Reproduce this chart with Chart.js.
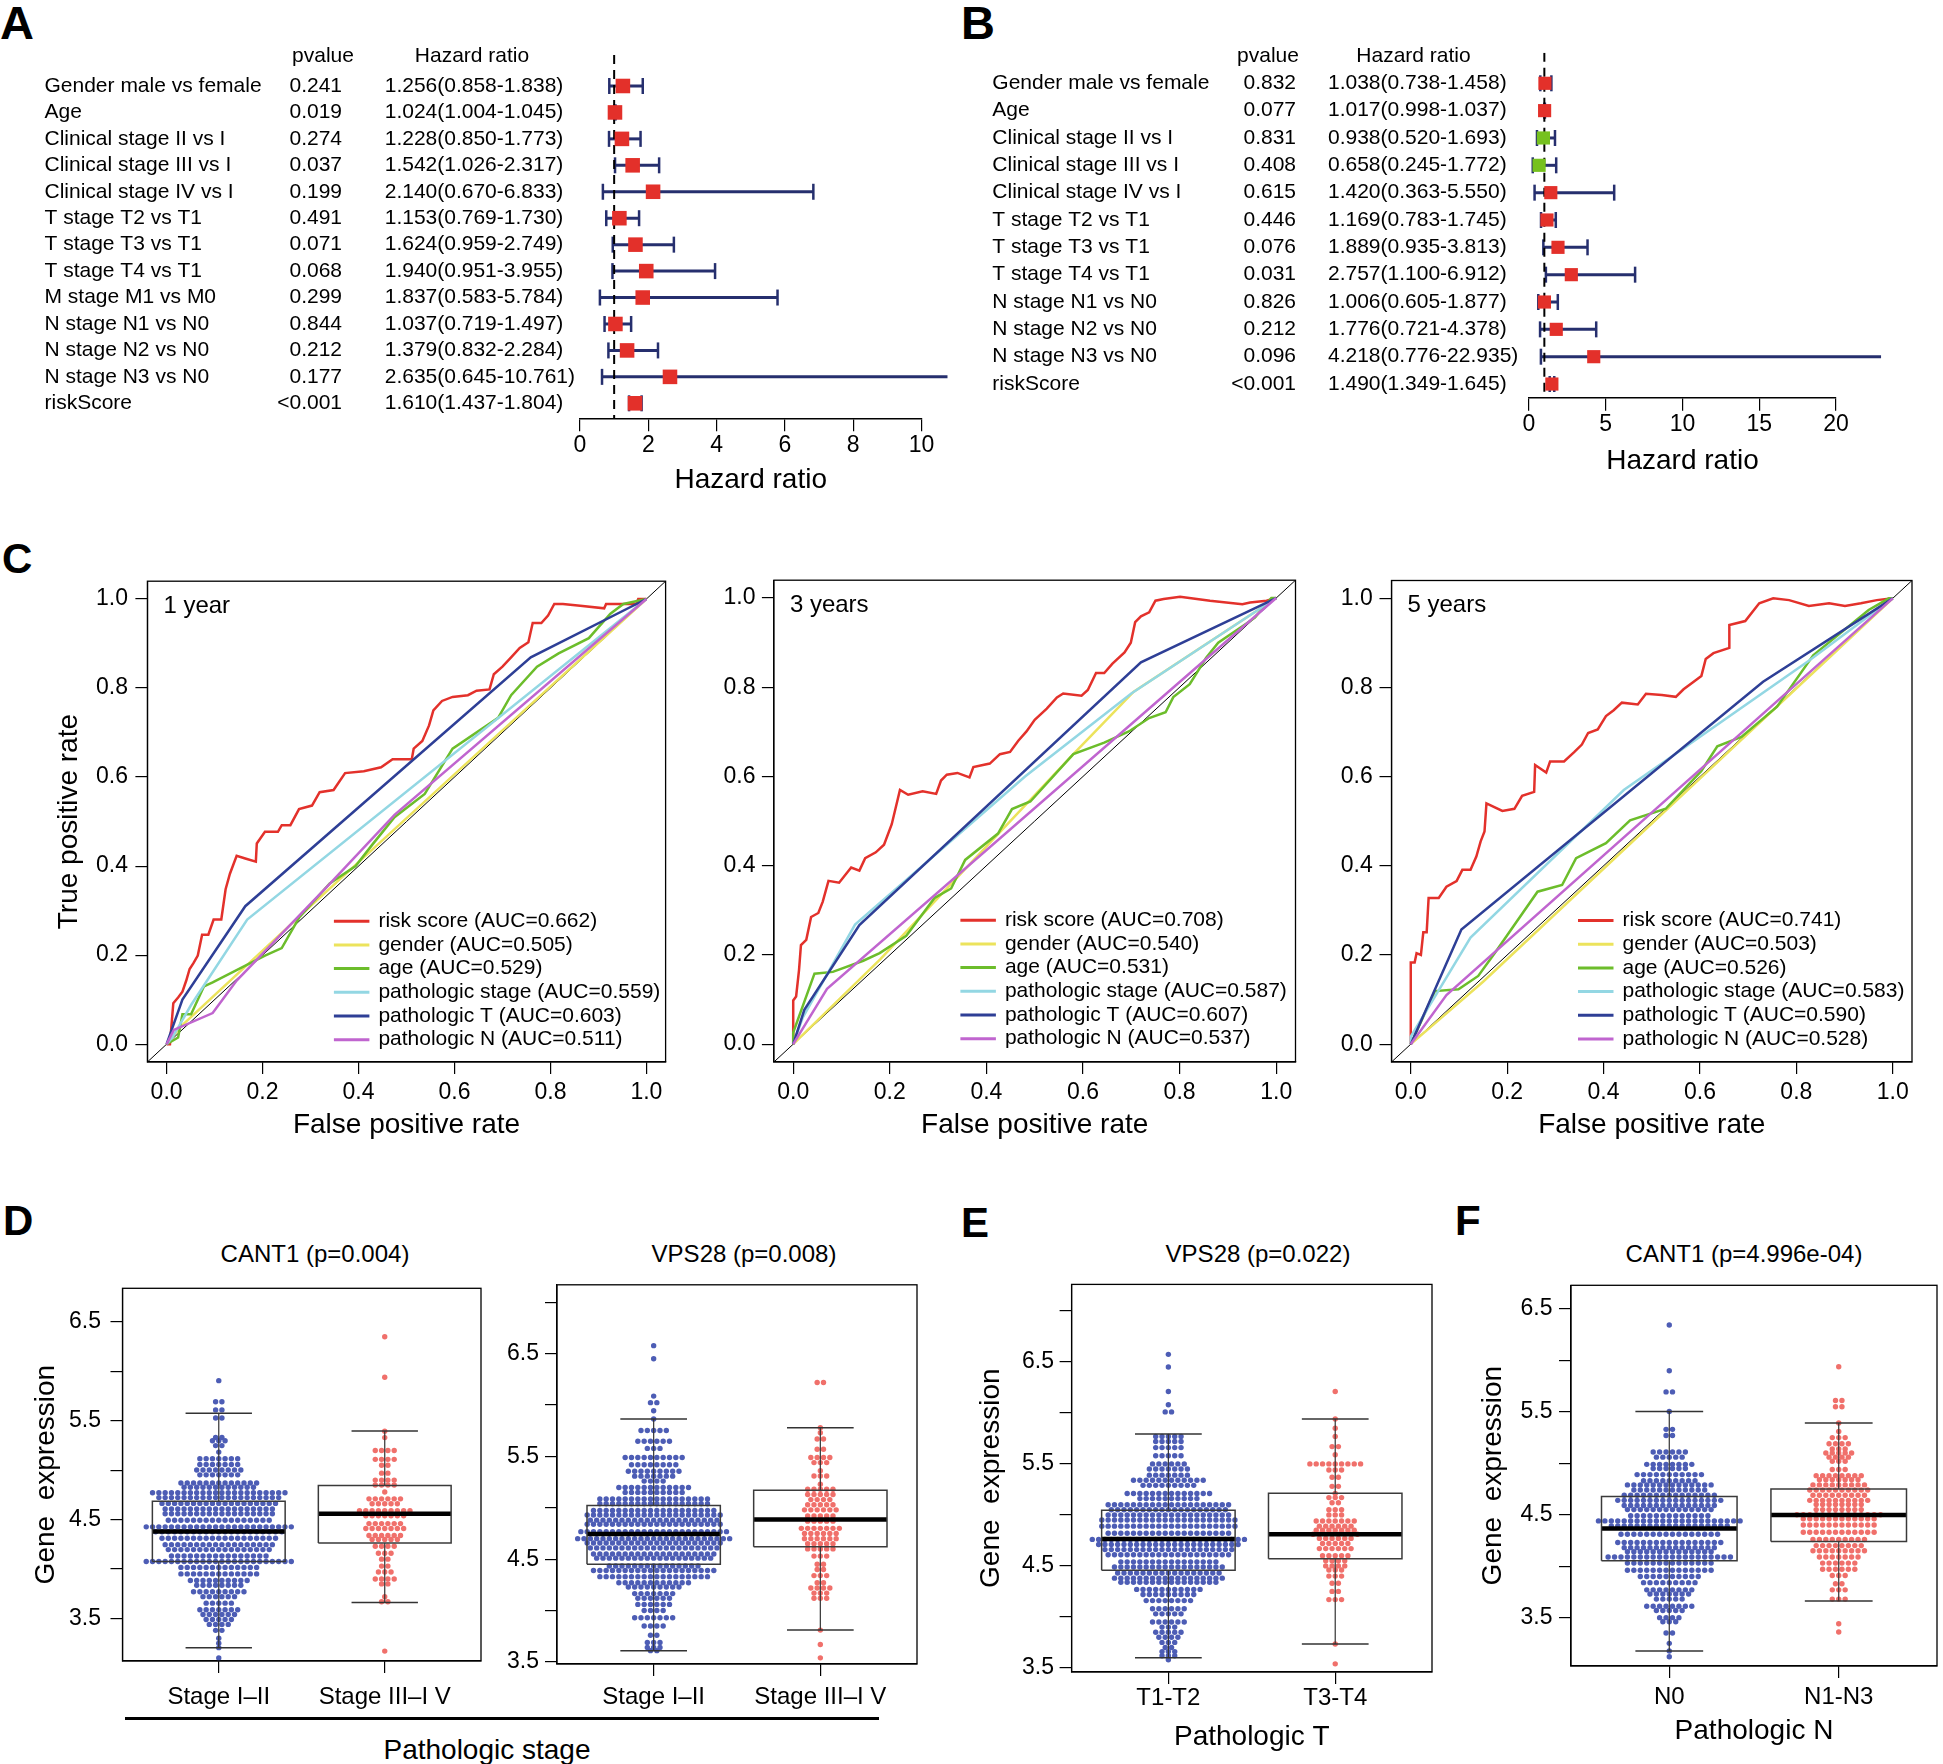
<!DOCTYPE html>
<html>
<head>
<meta charset="utf-8">
<title>Figura</title>
<script src="https://cdn.jsdelivr.net/npm/chart.js@4.4.1/dist/chart.umd.min.js"></script>
<style>
  body { margin: 0; background: #fff; font-family: 'Liberation Sans', Arial, Helvetica, sans-serif; color: #000; }
  #pagina { position: relative; width: 1943px; height: 1764px; overflow: hidden; }
  canvas { position: absolute; }
  .letra { position: absolute; font-weight: bold; line-height: 1; }
  .titulo { position: absolute; font-size: 24px; line-height: 1; white-space: pre; transform: translate(-50%, -50%); }
</style>
</head>
<body>
<div id="pagina">
  <div class="letra" style="left:0px;top:-1px;font-size:47px">A</div>
  <div class="letra" style="left:961px;top:-1px;font-size:47px">B</div>
  <div class="letra" style="left:2px;top:538px;font-size:42px">C</div>
  <div class="letra" style="left:3px;top:1200px;font-size:42px">D</div>
  <div class="letra" style="left:961px;top:1202px;font-size:42px">E</div>
  <div class="letra" style="left:1455px;top:1200px;font-size:42px">F</div>

  <div class="titulo" style="left:315px;top:1254px">CANT1 (p=0.004)</div>
  <div class="titulo" style="left:744px;top:1254px">VPS28 (p=0.008)</div>
  <div class="titulo" style="left:1258px;top:1254px">VPS28 (p=0.022)</div>
  <div class="titulo" style="left:1744px;top:1254px">CANT1 (p=4.996e-04)</div>
  <div style="position:absolute;left:125px;top:1717px;width:754px;height:3px;background:#000"></div>
  <div class="titulo" style="left:487px;top:1750px;font-size:28px">Pathologic stage</div>

  <canvas id="forestA" width="970" height="520" style="left:0px;top:0px"></canvas>
  <canvas id="forestB" width="973" height="520" style="left:970px;top:0px"></canvas>
  <canvas id="roc1" width="680" height="600" style="left:0px;top:560px"></canvas>
  <canvas id="roc3" width="630" height="600" style="left:680px;top:560px"></canvas>
  <canvas id="roc5" width="633" height="600" style="left:1310px;top:560px"></canvas>
  <canvas id="caixaD1" width="500" height="470" style="left:0px;top:1265px"></canvas>
  <canvas id="caixaD2" width="440" height="470" style="left:500px;top:1265px"></canvas>
  <canvas id="caixaE" width="490" height="499" style="left:960px;top:1265px"></canvas>
  <canvas id="caixaF" width="488" height="499" style="left:1455px;top:1265px"></canvas>
</div>

<script>
// ---------- painel A: Cox univariado ----------
const variaveisA = ['Gender male vs female', 'Age', 'Clinical stage II vs I', 'Clinical stage III vs I', 'Clinical stage IV vs I',
  'T stage T2 vs T1', 'T stage T3 vs T1', 'T stage T4 vs T1', 'M stage M1 vs M0', 'N stage N1 vs N0', 'N stage N2 vs N0',
  'N stage N3 vs N0', 'riskScore'];
const pvaloresA = ['0.241', '0.019', '0.274', '0.037', '0.199', '0.491', '0.071', '0.068', '0.299', '0.844', '0.212', '0.177', '<0.001'];
const hrA = [1.256, 1.024, 1.228, 1.542, 2.140, 1.153, 1.624, 1.940, 1.837, 1.037, 1.379, 2.635, 1.610];
const infA = [0.858, 1.004, 0.850, 1.026, 0.670, 0.769, 0.959, 0.951, 0.583, 0.719, 0.832, 0.645, 1.437];
const supA = [1.838, 1.045, 1.773, 2.317, 6.833, 1.730, 2.749, 3.955, 5.784, 1.497, 2.284, 10.761, 1.804];
const ticksA = [0, 2, 4, 6, 8, 10];

// ---------- painel B: Cox multivariado ----------
const variaveisB = ['Gender male vs female', 'Age', 'Clinical stage II vs I', 'Clinical stage III vs I', 'Clinical stage IV vs I',
  'T stage T2 vs T1', 'T stage T3 vs T1', 'T stage T4 vs T1', 'N stage N1 vs N0', 'N stage N2 vs N0', 'N stage N3 vs N0', 'riskScore'];
const pvaloresB = ['0.832', '0.077', '0.831', '0.408', '0.615', '0.446', '0.076', '0.031', '0.826', '0.212', '0.096', '<0.001'];
const hrB = [1.038, 1.017, 0.938, 0.658, 1.420, 1.169, 1.889, 2.757, 1.006, 1.776, 4.218, 1.490];
const infB = [0.738, 0.998, 0.520, 0.245, 0.363, 0.783, 0.935, 1.100, 0.605, 0.721, 0.776, 1.349];
const supB = [1.458, 1.037, 1.693, 1.772, 5.550, 1.745, 3.813, 6.912, 1.877, 4.378, 22.935, 1.645];
const ticksB = [0, 5, 10, 15, 20];

// ---------- painel C: curvas ROC ([taxa de falso positivo, taxa de verdadeiro positivo]) ----------
const nomesRoc = ['risk score', 'gender', 'age', 'pathologic stage', 'pathologic T', 'pathologic N'];
const aucAno1 = ['0.662', '0.505', '0.529', '0.559', '0.603', '0.511'];
const aucAno3 = ['0.708', '0.540', '0.531', '0.587', '0.607', '0.537'];
const aucAno5 = ['0.741', '0.503', '0.526', '0.583', '0.590', '0.528'];
const eixoRoc = [-0.04, 1.04];
const ticksRoc = [0, 0.2, 0.4, 0.6, 0.8, 1];
const rotulosRoc = ['0.0', '0.2', '0.4', '0.6', '0.8', '1.0'];

const risco1 = [[0,0],[0.007,0],[0.014,0.092],[0.024,0.105],[0.033,0.118],[0.041,0.143],[0.048,0.169],[0.056,0.182],[0.065,0.199],
  [0.074,0.246],[0.087,0.246],[0.098,0.28],[0.114,0.28],[0.123,0.348],[0.132,0.383],[0.146,0.423],[0.164,0.417],[0.186,0.41],
  [0.188,0.451],[0.205,0.477],[0.232,0.477],[0.24,0.492],[0.258,0.492],[0.276,0.528],[0.303,0.536],[0.319,0.566],[0.348,0.571],
  [0.372,0.609],[0.411,0.613],[0.447,0.622],[0.471,0.64],[0.511,0.64],[0.515,0.664],[0.533,0.681],[0.547,0.716],[0.556,0.75],
  [0.574,0.771],[0.596,0.78],[0.628,0.784],[0.646,0.794],[0.673,0.797],[0.682,0.831],[0.7,0.848],[0.718,0.869],[0.736,0.89],
  [0.754,0.903],[0.763,0.946],[0.781,0.946],[0.795,0.963],[0.808,0.989],[0.826,0.989],[0.862,0.985],[0.912,0.979],[0.916,0.989],
  [0.979,0.989],[0.983,1],[1,1]];
const genero1 = [[0,0],[0.03,0.04],[0.3,0.31],[0.7,0.705],[1,1]];
const idade1 = [[0,0],[0.024,0.015],[0.033,0.067],[0.051,0.067],[0.078,0.13],[0.096,0.139],[0.205,0.199],[0.24,0.216],[0.276,0.284],
  [0.34,0.361],[0.394,0.4],[0.43,0.45],[0.475,0.51],[0.538,0.562],[0.596,0.664],[0.691,0.733],[0.718,0.784],[0.772,0.848],
  [0.817,0.878],[0.88,0.912],[0.925,0.967],[0.952,0.989],[1,1]];
const estadio1 = [[0,0],[0.012,0.015],[0.051,0.088],[0.168,0.28],[1,1]];
const patT1 = [[0,0],[0.033,0.1],[0.164,0.31],[0.759,0.869],[1,1]];
const patN1 = [[0,0],[0.015,0.032],[0.096,0.07],[0.146,0.143],[0.34,0.36],[0.475,0.515],[1,1]];

const risco3 = [[0,0],[0,0.098],[0.006,0.107],[0.012,0.166],[0.016,0.222],[0.027,0.234],[0.037,0.285],[0.052,0.294],[0.061,0.319],
  [0.073,0.366],[0.095,0.362],[0.12,0.396],[0.137,0.389],[0.149,0.417],[0.171,0.43],[0.188,0.447],[0.204,0.493],[0.221,0.57],
  [0.238,0.559],[0.268,0.567],[0.296,0.561],[0.306,0.591],[0.318,0.604],[0.34,0.608],[0.365,0.598],[0.373,0.621],[0.407,0.629],
  [0.428,0.65],[0.449,0.655],[0.466,0.68],[0.483,0.701],[0.5,0.727],[0.525,0.752],[0.546,0.777],[0.559,0.786],[0.597,0.781],
  [0.61,0.794],[0.627,0.832],[0.644,0.832],[0.661,0.853],[0.686,0.878],[0.699,0.9],[0.708,0.946],[0.72,0.959],[0.737,0.968],
  [0.75,0.994],[0.767,0.998],[0.801,1.003],[0.863,0.994],[0.93,0.986],[0.946,0.99],[0.98,0.994],[1,1]];
const genero3 = [[0,0],[0.18,0.19],[0.58,0.65],[0.705,0.79],[1,1]];
const idade3 = [[0,0],[0,0.026],[0.044,0.158],[0.082,0.162],[0.145,0.187],[0.179,0.204],[0.234,0.243],[0.293,0.328],[0.327,0.349],
  [0.356,0.413],[0.424,0.472],[0.453,0.527],[0.491,0.544],[0.58,0.65],[0.644,0.676],[0.695,0.701],[0.737,0.731],[0.771,0.744],
  [0.787,0.778],[0.821,0.807],[0.855,0.866],[0.88,0.9],[0.956,0.956],[0.99,1],[1,1]];
const estadio3 = [[0,0],[0.02,0.06],[0.128,0.268],[0.48,0.6],[0.7,0.786],[1,1]];
const patT3 = [[0,0],[0.023,0.077],[0.137,0.267],[0.72,0.856],[1,1]];
const patN3 = [[0,0],[0.07,0.124],[1,1]];

const risco5 = [[0,0],[0,0.183],[0.008,0.183],[0.012,0.204],[0.021,0.2],[0.026,0.251],[0.033,0.251],[0.037,0.328],[0.058,0.328],
  [0.074,0.353],[0.095,0.366],[0.107,0.391],[0.124,0.391],[0.136,0.421],[0.145,0.455],[0.153,0.477],[0.157,0.54],[0.19,0.523],
  [0.215,0.528],[0.231,0.557],[0.256,0.566],[0.258,0.626],[0.281,0.609],[0.289,0.634],[0.318,0.634],[0.339,0.655],[0.355,0.672],
  [0.368,0.698],[0.388,0.706],[0.405,0.736],[0.421,0.749],[0.438,0.766],[0.471,0.762],[0.488,0.786],[0.521,0.783],[0.55,0.779],
  [0.566,0.796],[0.587,0.813],[0.603,0.826],[0.612,0.864],[0.628,0.877],[0.661,0.889],[0.661,0.94],[0.694,0.949],[0.723,0.989],
  [0.752,1],[0.785,0.996],[0.826,0.983],[0.868,0.989],[0.901,0.983],[0.934,0.989],[0.967,0.996],[1,1]];
const genero5 = [[0,0],[0.15,0.14],[0.5,0.495],[1,1]];
const idade5 = [[0,0],[0.05,0.119],[0.099,0.123],[0.14,0.153],[0.174,0.204],[0.263,0.342],[0.314,0.357],[0.343,0.417],[0.405,0.451],
  [0.455,0.502],[0.529,0.528],[0.603,0.613],[0.636,0.668],[0.686,0.689],[0.76,0.757],[0.835,0.872],[0.95,0.974],[0.992,1],[1,1]];
const estadio5 = [[0,0],[0,0.017],[0.124,0.239],[0.442,0.57],[0.826,0.86],[1,1]];
const patT5 = [[0,0],[0.105,0.257],[0.731,0.813],[1,1]];
const patN5 = [[0,0],[0.074,0.11],[1,1]];

// ---------- paineis D, E, F: expressao genica ----------
const gruposEstadio = ['Stage I–II', 'Stage III–I V'];
const gruposT = ['T1-T2', 'T3-T4'];
const gruposN = ['N0', 'N1-N3'];
const ticksExpr = [3.5, 4, 4.5, 5, 5.5, 6, 6.5];
const ticksExpr7 = [3.5, 4, 4.5, 5, 5.5, 6, 6.5, 7];
const rotulosExpr = ['3.5', '', '4.5', '', '5.5', '', '6.5', ''];

// caixa: [bigode inferior, Q1, mediana, Q3, bigode superior]
const caixaD1 = [[3.205, 4.077, 4.379, 4.687, 5.577], [3.662, 4.264, 4.56, 4.845, 5.397]];
const caixaD2 = [[3.61, 4.45, 4.746, 5.022, 5.864], [3.81, 4.62, 4.886, 5.171, 5.78]];
const caixaE = [[3.60, 4.457, 4.764, 5.045, 5.793], [3.735, 4.571, 4.81, 5.213, 5.94]];
const caixaF = [[3.176, 4.052, 4.367, 4.678, 5.503], [3.662, 4.24, 4.497, 4.75, 5.392]];

// enxame: [valor de expressao, quantidade de pontos naquela linha]
const enxameD1a = [[5.906,1],[5.692,2],[5.61,2],[5.528,2],[5.331,2],[5.298,3],[5.249,2],[5.183,1],[5.117,7],[5.058,7],[5.002,8],
  [4.953,7],[4.871,13],[4.828,12],[4.772,22],[4.723,20],[4.664,19],[4.608,18],[4.559,18],[4.493,17],[4.427,24],[4.378,21],
  [4.312,19],[4.247,18],[4.197,17],[4.132,16],[4.076,24],[4.017,13],[3.951,13],[3.885,10],[3.836,8],[3.77,9],[3.721,6],
  [3.655,5],[3.589,7],[3.54,6],[3.49,5],[3.44,4],[3.38,2],[3.3,1],[3.25,1],[3.205,1],[3.1,1]];
const enxameD1b = [[6.35,1],[5.94,1],[5.395,1],[5.33,1],[5.2,4],[5.11,4],[5.05,2],[4.97,2],[4.9,4],[4.85,4],[4.78,1],[4.71,6],
  [4.66,5],[4.59,9],[4.54,7],[4.46,6],[4.41,7],[4.34,6],[4.3,5],[4.23,4],[4.16,3],[4.1,2],[4.03,2],[3.97,3],[3.9,4],[3.85,2],
  [3.72,1],[3.67,2],[3.17,1]];
const enxameD2a = [[6.578,1],[6.45,1],[6.087,1],[6.023,2],[5.944,1],[5.864,1],[5.752,5],[5.648,6],[5.578,3],[5.489,10],[5.419,8],
  [5.355,9],[5.308,7],[5.26,4],[5.197,12],[5.15,10],[5.086,18],[5.04,18],[4.974,20],[4.93,22],[4.88,21],[4.84,22],[4.768,24],
  [4.70,25],[4.657,22],[4.61,21],[4.55,20],[4.51,19],[4.434,15],[4.39,20],[4.33,18],[4.27,12],[4.23,9],[4.165,7],[4.12,6],
  [4.06,6],[4.0,4],[3.93,7],[3.85,4],[3.76,2],[3.69,3],[3.64,3],[3.61,2]];
const enxameD2b = [[6.22,2],[5.78,1],[5.73,1],[5.67,2],[5.57,2],[5.49,4],[5.44,3],[5.36,1],[5.31,3],[5.23,1],[5.18,5],[5.13,5],
  [5.08,4],[5.03,5],[4.98,6],[4.92,5],[4.87,5],[4.80,7],[4.75,6],[4.70,6],[4.65,5],[4.60,5],[4.53,3],[4.45,2],[4.40,2],[4.34,3],
  [4.27,2],[4.22,4],[4.17,3],[4.12,3],[3.81,1],[3.67,1],[3.54,1]];
const enxameEa = [[6.574,1],[6.45,1],[6.21,1],[6.08,1],[6.01,2],[5.77,5],[5.72,5],[5.66,5],[5.58,5],[5.5,6],[5.45,7],[5.39,7],
  [5.34,12],[5.29,9],[5.21,14],[5.16,10],[5.1,20],[5.05,19],[5.0,20],[4.95,22],[4.89,22],[4.82,20],[4.76,25],[4.71,23],[4.66,21],
  [4.61,20],[4.54,16],[4.49,18],[4.43,17],[4.38,18],[4.34,16],[4.27,11],[4.22,9],[4.16,8],[4.08,6],[4.03,5],[3.95,6],[3.9,3],
  [3.85,5],[3.8,4],[3.75,3],[3.7,2],[3.66,3],[3.62,3],[3.58,1]];
const enxameEb = [[6.21,1],[5.94,1],[5.85,1],[5.77,1],[5.67,2],[5.59,1],[5.5,9],[5.44,3],[5.37,2],[5.28,2],[5.21,1],[5.17,3],
  [5.12,2],[5.05,3],[5.0,3],[4.94,7],[4.89,6],[4.85,7],[4.81,8],[4.77,6],[4.72,5],[4.67,6],[4.6,5],[4.55,4],[4.5,4],[4.46,3],
  [4.4,3],[4.33,2],[4.25,2],[4.17,3],[3.735,1],[3.54,1]];
const enxameFa = [[6.344,1],[5.9,1],[5.694,2],[5.503,1],[5.33,2],[5.27,2],[5.11,6],[5.06,5],[4.99,8],[4.95,6],[4.89,11],[4.83,9],
  [4.79,14],[4.74,12],[4.69,15],[4.64,17],[4.59,15],[4.55,14],[4.49,13],[4.44,23],[4.39,19],[4.31,16],[4.23,17],[4.18,15],
  [4.14,14],[4.09,20],[4.03,14],[3.96,14],[3.9,10],[3.84,9],[3.77,8],[3.73,7],[3.68,5],[3.61,8],[3.57,5],[3.5,4],[3.46,3],
  [3.35,2],[3.25,1],[3.176,1],[3.12,1]];
const enxameFb = [[5.938,1],[5.61,2],[5.55,2],[5.392,1],[5.31,1],[5.25,3],[5.19,4],[5.14,3],[5.1,5],[5.06,4],[5.02,3],[4.94,3],
  [4.88,8],[4.84,7],[4.79,9],[4.74,10],[4.69,9],[4.64,10],[4.6,8],[4.55,8],[4.5,14],[4.46,12],[4.4,12],[4.33,12],[4.26,9],
  [4.2,8],[4.15,9],[4.09,7],[4.03,6],[3.97,6],[3.91,3],[3.83,2],[3.77,3],[3.68,3],[3.44,1],[3.36,1]];

// ---------- estilos ----------
const FONTE = "'Liberation Sans', Arial, Helvetica, sans-serif";
const coresRoc = ['#e3312b', '#ece35c', '#6cbd2b', '#93d7e3', '#2e3f96', '#c065cf'];
const coresGrupo = ['#4d5db5', '#f0706b'];
const azulEscuro = '#262f6e';
const vermelho = '#e3302a';
const verde = '#76c11f';
const PASSO_PONTO = 0.038;   // distancia horizontal entre pontos do enxame (unidades do eixo x)
const MEIA_CAIXA = 0.4;
const MEIA_HASTE = 0.2;

function opcoesBase(padding) {
  return {
    responsive: false, animation: false, devicePixelRatio: 1, events: [],
    layout: { padding },
    plugins: { legend: { display: false }, tooltip: { enabled: false }, title: { display: false } }
  };
}

// eixo no estilo do R: so marcas para fora, sem grade
function eixo(c) {
  return {
    type: 'linear', min: c.min, max: c.max,
    afterBuildTicks: s => { s.ticks = c.ticks.map(v => ({ value: v })); },
    afterFit: s => { if (c.largura) s.width = c.largura; if (c.altura) s.height = c.altura; },
    ticks: {
      callback: (v, i) => c.rotulos[i], font: { size: c.fonteTick || 23 }, color: '#000',
      padding: c.pad, autoSkip: false, maxRotation: 0, minRotation: 0
    },
    grid: { display: true, drawOnChartArea: false, drawTicks: true, tickLength: c.marca || 12, color: '#000', lineWidth: 1.2 },
    border: { display: true, color: '#000', width: c.borda || 1.2 },
    title: c.titulo ? { display: true, text: c.titulo, font: { size: 28 }, color: '#000', padding: c.tituloPad } : { display: false }
  };
}

const moldura = {
  id: 'moldura',
  afterDatasetsDraw(chart) {
    const { ctx, chartArea: a } = chart;
    ctx.save();
    ctx.strokeStyle = '#000';
    ctx.lineWidth = 1.3;
    ctx.strokeRect(a.left, a.top, a.right - a.left, a.bottom - a.top);
    ctx.restore();
  }
};

// ---------- forest plot ----------
function textoForest(nomes, pvals, hr, inf, sup, L) {
  return {
    id: 'textoForest',
    afterDraw(chart) {
      const ctx = chart.ctx, y = chart.scales.y;
      ctx.save();
      ctx.font = '21px ' + FONTE;
      ctx.fillStyle = '#000';
      ctx.textBaseline = 'middle';
      const yt = y.getPixelForValue(L.linhaTitulo);
      ctx.textAlign = 'center';
      ctx.fillText('pvalue', L.xTituloP, yt);
      ctx.fillText('Hazard ratio', L.xTituloHr, yt);
      nomes.forEach((nome, i) => {
        const yy = y.getPixelForValue(i);
        ctx.textAlign = 'left';
        ctx.fillText(nome, L.xNome, yy);
        ctx.textAlign = 'right';
        ctx.fillText(pvals[i], L.xP, yy);
        ctx.textAlign = 'left';
        ctx.fillText(hr[i].toFixed(3) + '(' + inf[i].toFixed(3) + '-' + sup[i].toFixed(3) + ')', L.xHr, yy);
      });
      ctx.restore();
    }
  };
}

function graficoForest(id, nomes, pvals, hr, inf, sup, ticks, L) {
  const datasets = [{
    data: hr.map((v, i) => ({ x: v, y: i })),
    pointStyle: 'rect', pointRadius: L.quadrado, pointBorderWidth: 0,
    pointBackgroundColor: hr.map(v => v < 1 ? verde : vermelho), order: 0, clip: false
  }, {
    data: [{ x: 1, y: L.yMin }, { x: 1, y: L.yMax }], showLine: true, borderColor: '#000', borderWidth: 2,
    borderDash: [9, 6], pointRadius: 0, order: 1
  }];
  hr.forEach((v, i) => datasets.push({
    data: [{ x: inf[i], y: i }, { x: sup[i], y: i }], showLine: true, borderColor: azulEscuro, borderWidth: 3,
    pointStyle: 'line', pointRotation: 90, pointRadius: 8, pointBorderColor: azulEscuro, pointBorderWidth: 2.5,
    order: 2, clip: false
  }));
  const opcoes = opcoesBase(L.padding);
  opcoes.scales = {
    x: eixo({ min: 0, max: ticks[ticks.length - 1], ticks, rotulos: ticks.map(String), pad: L.padTick, marca: 13,
      altura: L.alturaX, borda: 1.6, titulo: 'Hazard ratio', tituloPad: { top: 0, bottom: 0 } }),
    y: { type: 'linear', display: false, reverse: true, min: L.yMin, max: L.yMax }
  };
  new Chart(document.getElementById(id), {
    type: 'scatter', data: { datasets }, options: opcoes,
    plugins: [textoForest(nomes, pvals, hr, inf, sup, L)]
  });
}

graficoForest('forestA', variaveisA, pvaloresA, hrA, infA, supA, ticksA, {
  padding: { left: 580, right: 48.5, top: 55, bottom: 23.2 }, alturaX: 78.5, padTick: 1,
  yMin: -1.172, yMax: 12.567, linhaTitulo: -1.108, quadrado: 10.3,
  xNome: 44.5, xP: 342, xHr: 384.7, xTituloP: 323, xTituloHr: 472
});
graficoForest('forestB', variaveisB, pvaloresB, hrB, infB, supB, ticksB, {
  padding: { left: 559, right: 107, top: 52.7, bottom: 41.5 }, alturaX: 80.8, padTick: 0,
  yMin: -1.119, yMax: 11.5, linhaTitulo: -0.973, quadrado: 9.3,
  xNome: 22.3, xP: 326, xHr: 358, xTituloP: 298, xTituloHr: 443.5
});

// ---------- curvas ROC ----------
function legendaRoc(periodo) {
  return {
    id: 'legendaRoc',
    afterDraw(chart) {
      const { ctx, chartArea: a } = chart;
      ctx.save();
      ctx.textBaseline = 'middle';
      ctx.textAlign = 'left';
      ctx.fillStyle = '#000';
      ctx.font = '24px ' + FONTE;
      ctx.fillText(periodo, a.left + 16, a.top + 24.7);
      ctx.font = '21px ' + FONTE;
      let k = 0;
      chart.data.datasets.forEach(ds => {
        if (!ds.label) return;
        const y = a.top + 340 + k * 23.7;
        ctx.strokeStyle = ds.borderColor;
        ctx.lineWidth = 3;
        ctx.beginPath();
        ctx.moveTo(a.left + 186.5, y);
        ctx.lineTo(a.left + 222, y);
        ctx.stroke();
        ctx.fillText(ds.label, a.left + 231, y);
        k++;
      });
      ctx.restore();
    }
  };
}

function graficoRoc(id, periodo, curvas, aucs, L) {
  const datasets = [{
    data: eixoRoc.map(v => ({ x: v, y: v })), showLine: true, borderColor: '#000', borderWidth: 1, pointRadius: 0, order: 20
  }];
  curvas.forEach((c, i) => datasets.push({
    label: nomesRoc[i] + ' (AUC=' + aucs[i] + ')',
    data: c.map(p => ({ x: p[0], y: p[1] })),
    showLine: true, borderColor: coresRoc[i], borderWidth: 2.5, pointRadius: 0, order: 10 - i
  }));
  const opcoes = opcoesBase({ left: 0, right: L.direita, top: 18.3, bottom: 15.7 });
  opcoes.scales = {
    x: eixo({ min: eixoRoc[0], max: eixoRoc[1], ticks: ticksRoc, rotulos: rotulosRoc, pad: 5.2, altura: 82.3,
      titulo: 'False positive rate', tituloPad: { top: 0, bottom: 2 } }),
    y: eixo({ min: eixoRoc[0], max: eixoRoc[1], ticks: ticksRoc, rotulos: rotulosRoc, pad: L.padY, largura: L.largura,
      titulo: L.tituloY, tituloPad: { top: 52.6, bottom: 0 } })
  };
  new Chart(document.getElementById(id), {
    type: 'scatter', data: { datasets }, options: opcoes, plugins: [moldura, legendaRoc(periodo)]
  });
}

graficoRoc('roc1', '1 year', [risco1, genero1, idade1, estadio1, patT1, patN1], aucAno1,
  { direita: 14.4, largura: 147.4, padY: 7.4, tituloY: 'True positive rate' });
graficoRoc('roc3', '3 years', [risco3, genero3, idade3, estadio3, patT3, patN3], aucAno3,
  { direita: 14.5, largura: 93.9, padY: 6.4 });
graficoRoc('roc5', '5 years', [risco5, genero5, idade5, estadio5, patT5, patN5], aucAno5,
  { direita: 31, largura: 81.5, padY: 6.7 });

// ---------- boxplot + enxame ----------
function enxame(linhas, centro) {
  const pts = [];
  linhas.forEach(([v, n]) => {
    for (let k = 0; k < n; k++) pts.push({ x: centro + (k - (n - 1) / 2) * PASSO_PONTO, y: v });
  });
  return pts;
}

function graficoCaixa(id, categorias, enxames, caixas, yLim, yTicks, L) {
  const datasets = [];
  const linha = (pts, w, cor) => datasets.push({
    data: pts.map(([x, y]) => ({ x, y })), showLine: true, borderColor: cor, borderWidth: w, pointRadius: 0, order: 0
  });
  enxames.forEach((linhas, g) => {
    const c = g + 1;
    const [lo, q1, med, q3, hi] = caixas[g];
    datasets.push({ data: enxame(linhas, c), pointRadius: 2.7, pointBackgroundColor: coresGrupo[g], pointBorderWidth: 0, order: 1 });
    linha([[c - MEIA_CAIXA, q1], [c + MEIA_CAIXA, q1], [c + MEIA_CAIXA, q3], [c - MEIA_CAIXA, q3], [c - MEIA_CAIXA, q1]], 1.5, '#3a3a3a');
    linha([[c, q3], [c, hi]], 1.2, '#333');
    linha([[c, lo], [c, q1]], 1.2, '#333');
    linha([[c - MEIA_HASTE, hi], [c + MEIA_HASTE, hi]], 1.5, '#333');
    linha([[c - MEIA_HASTE, lo], [c + MEIA_HASTE, lo]], 1.5, '#333');
    linha([[c - MEIA_CAIXA, med], [c + MEIA_CAIXA, med]], 4.5, '#000');
  });
  const opcoes = opcoesBase(L.padding);
  opcoes.scales = {
    x: eixo({ min: 0.42, max: 2.58, ticks: [1, 2], rotulos: categorias, pad: L.padX, altura: L.alturaX, fonteTick: 24,
      titulo: L.tituloX, tituloPad: { top: 0, bottom: 4 } }),
    y: eixo({ min: yLim[0], max: yLim[1], ticks: yTicks, rotulos: rotulosExpr, pad: L.padY, largura: L.largura,
      titulo: L.tituloY, tituloPad: { top: L.padTituloY, bottom: 0 } })
  };
  new Chart(document.getElementById(id), {
    type: 'scatter', data: { datasets }, options: opcoes, plugins: [moldura]
  });
}

graficoCaixa('caixaD1', gruposEstadio, [enxameD1a, enxameD1b], caixaD1, [3.07, 6.84], ticksExpr, {
  padding: { left: 0, right: 19, top: 13.7, bottom: 14 }, largura: 122.5, padY: 9.5, alturaX: 60, padX: 10.3,
  tituloY: 'Gene  expression', padTituloY: 29.2
});
graficoCaixa('caixaD2', gruposEstadio, [enxameD2a, enxameD2b], caixaD2, [3.48, 7.17], ticksExpr7, {
  padding: { left: 0, right: 23, top: 11, bottom: 11 }, largura: 57, padY: 6, alturaX: 60, padX: 7
});
graficoCaixa('caixaE', gruposT, [enxameEa, enxameEb], caixaE, [3.46, 7.26], ticksExpr7, {
  padding: { left: 0, right: 18, top: 14, bottom: 6.4 }, largura: 111.6, padY: 5.6, alturaX: 85.6, padX: 0,
  tituloX: 'Pathologic T', tituloY: 'Gene  expression', padTituloY: 14.2
});
graficoCaixa('caixaF', gruposN, [enxameFa, enxameFb], caixaF, [3.03, 6.73], ticksExpr, {
  padding: { left: 0, right: 6, top: 12.6, bottom: 12.2 }, largura: 116, padY: 6.5, alturaX: 85.8, padX: 5,
  tituloX: 'Pathologic N', tituloY: 'Gene  expression', padTituloY: 21.2
});
</script>
</body>
</html>
